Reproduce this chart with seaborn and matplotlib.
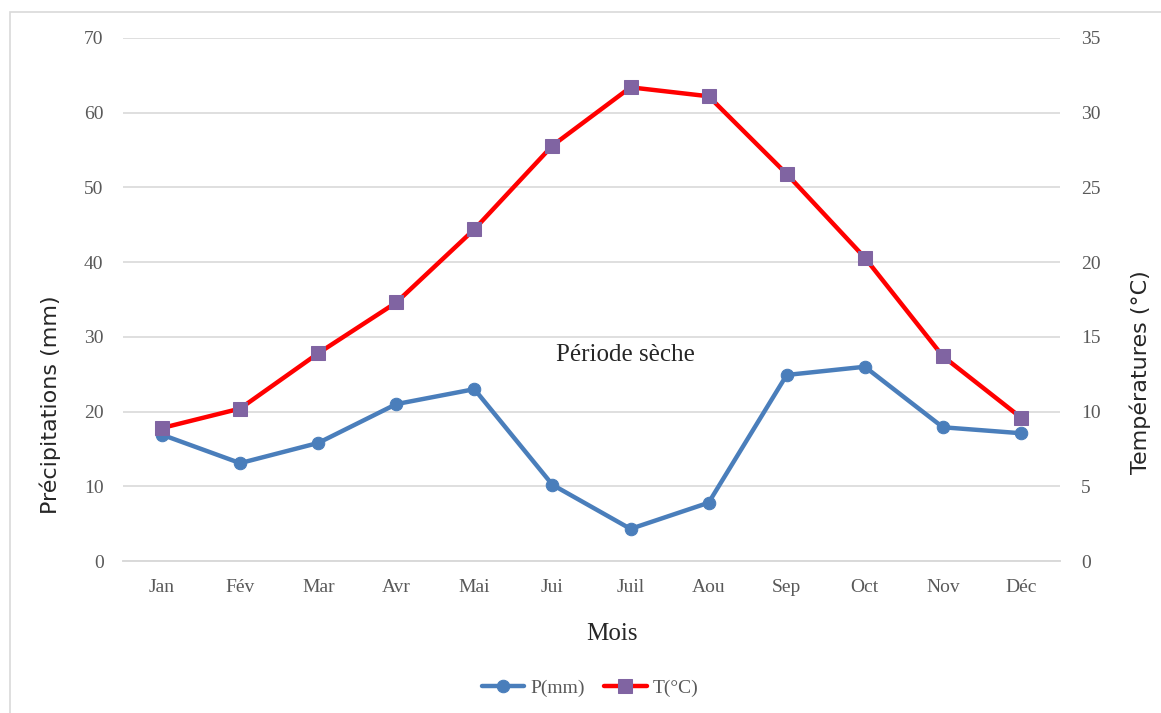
import numpy as np
import pandas as pd
import matplotlib
matplotlib.use("Agg")
import matplotlib.pyplot as plt
import seaborn as sns
from matplotlib.patches import Rectangle

# data
mois = ["Jan", "Fév", "Mar", "Avr", "Mai", "Jui", "Juil", "Aou", "Sep", "Oct", "Nov", "Déc"]
precip = [16.9, 13.1, 15.8, 21.0, 23.0, 10.2, 4.3, 7.8, 24.9, 26.0, 17.9, 17.1]
temp = [8.9, 10.2, 13.9, 17.3, 22.2, 27.8, 31.7, 31.1, 25.9, 20.3, 13.7, 9.6]

df = pd.DataFrame({"Mois": mois, "P": precip, "T": temp})

sns.set_style("white")
plt.rcParams["font.family"] = ["Liberation Serif", "DejaVu Serif"]

grid_col = "#D9D9D9"
tick_col = "#595959"
blue = "#4A7EBB"
red = "#FF0000"
purple = "#8064A2"

fig = plt.figure(figsize=(11.61, 7.13), dpi=100)
ax = fig.add_axes([123 / 1161, 1 - 561 / 713, (1060 - 123) / 1161, (561 - 38) / 713])

# frame around the chart
fig.patches.append(Rectangle((10 / 1161, -0.1), 1.2, 1 - 12 / 713 + 0.1, transform=fig.transFigure,
                             fill=False, edgecolor=grid_col, linewidth=1.2))

sns.lineplot(data=df, x="Mois", y="P", ax=ax, color=blue, linewidth=3.2, marker="o",
             markersize=9, markeredgecolor=blue, label="P(mm)", legend=False, sort=False)

ax2 = ax.twinx()
sns.lineplot(data=df, x="Mois", y="T", ax=ax2, color=red, linewidth=3.2, marker="s",
             markersize=9.5, markerfacecolor=purple, markeredgecolor=purple,
             label="T(°C)", legend=False, sort=False)

ax.set_xlim(-0.5, 11.5)
ax.set_ylim(0, 70)
ax2.set_ylim(0, 35)
ax.set_yticks(range(0, 71, 10))
ax2.set_yticks(range(0, 36, 5))

ax.yaxis.grid(True, color=grid_col, linewidth=1.2)
ax.set_axisbelow(True)

for a in (ax, ax2):
    for s in ("top", "left", "right"):
        a.spines[s].set_visible(False)
    a.spines["bottom"].set_color(grid_col)
    a.spines["bottom"].set_linewidth(1.2)

ax.set_xticks(np.arange(-0.5, 12, 1), minor=True)
ax.tick_params(axis="x", which="minor", length=6, color=grid_col, width=1.2)
ax.tick_params(axis="x", which="major", length=0, pad=13, labelsize=14, labelcolor=tick_col)
ax.tick_params(axis="y", length=0, pad=14, labelsize=14, labelcolor=tick_col)
ax2.tick_params(axis="y", length=0, pad=15, labelsize=14, labelcolor=tick_col)

ax.set_xlabel("")
ax.set_ylabel("")
ax2.set_ylabel("")

fig.text(612 / 1161, 1 - 634 / 713, "Mois", ha="center", va="center", fontsize=18)
fig.text(50 / 1161, 1 - 405 / 713, "Précipitations (mm)", ha="center", va="center",
         rotation=90, fontsize=16, family="DejaVu Sans")
fig.text(1140 / 1161, 1 - 372 / 713, "Températures (°C)", ha="center", va="center",
         rotation=90, fontsize=16, family="DejaVu Sans")
fig.text(625 / 1161, 1 - 355 / 713, "Période sèche", ha="center", va="center", fontsize=18)

h1, l1 = ax.get_legend_handles_labels()
h2, l2 = ax2.get_legend_handles_labels()
leg = fig.legend(h1 + h2, l1 + l2, loc="center", bbox_to_anchor=(590 / 1161, 1 - 688 / 713),
                 ncol=2, frameon=False, fontsize=14, handlelength=2.2, columnspacing=1.0,
                 handletextpad=0.3)
for t in leg.get_texts():
    t.set_color(tick_col)

fig.savefig("out.png", dpi=100)
